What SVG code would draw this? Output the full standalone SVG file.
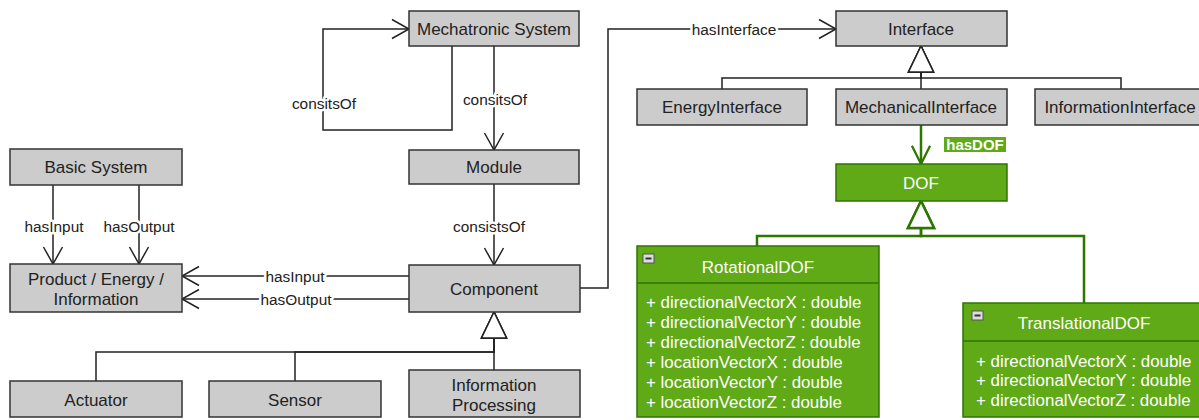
<svg xmlns="http://www.w3.org/2000/svg" width="1199" height="420" viewBox="0 0 1199 420">
<style>
.box{fill:#cccccc;stroke:#333333;stroke-width:1.5}
.gbox{fill:#60a917;stroke:#2d7600;stroke-width:1.5}
.t{font-family:"Liberation Sans",Arial,sans-serif;font-size:17px;fill:#222222;text-anchor:middle;dominant-baseline:central}
.gt{font-family:"Liberation Sans",Arial,sans-serif;font-size:17px;fill:#ffffff;text-anchor:middle;dominant-baseline:central}
.attr{font-family:"Liberation Sans",Arial,sans-serif;font-size:16.9px;fill:#ffffff;dominant-baseline:central}
.lbl{font-family:"Liberation Sans",Arial,sans-serif;font-size:15.4px;fill:#222222;text-anchor:middle;dominant-baseline:central;stroke:#ffffff;stroke-width:5;paint-order:stroke;stroke-linejoin:round}
.edge{fill:none;stroke:#222222;stroke-width:1.5}
.gedge{fill:none;stroke:#2d7600;stroke-width:2.5}
.icon{fill:#dddddd;stroke:#555555;stroke-width:1}
</style>
<defs>
<marker id="open" markerUnits="userSpaceOnUse" markerWidth="40" markerHeight="40" viewBox="-20 -20 40 40" refX="0" refY="0" orient="auto" overflow="visible">
<path d="M-17,-9.5 L0,0 L-17,9.5" fill="none" stroke="#222222" stroke-width="1.5"/>
</marker>
<marker id="gopen" markerUnits="userSpaceOnUse" markerWidth="40" markerHeight="40" viewBox="-22 -22 44 44" refX="0" refY="0" orient="auto" overflow="visible">
<path d="M-20,-10 L0,0 L-20,10" fill="none" stroke="#2d7600" stroke-width="2.5"/>
</marker>
<marker id="tri" markerUnits="userSpaceOnUse" markerWidth="40" markerHeight="40" viewBox="-30 -20 40 40" refX="0" refY="0" orient="auto" overflow="visible">
<path d="M0,0 L-26,-12.5 L-26,12.5 Z" fill="#ffffff" stroke="#222222" stroke-width="1.5"/>
</marker>
<marker id="gtri" markerUnits="userSpaceOnUse" markerWidth="40" markerHeight="40" viewBox="-30 -20 40 40" refX="0" refY="0" orient="auto" overflow="visible">
<path d="M0,0 L-27,-13 L-27,13 Z" fill="#ffffff" stroke="#2d7600" stroke-width="2.5"/>
</marker>
</defs>

<g id="connectors">
<path class="edge" d="M452,46 V130 H323 V29 H409" marker-end="url(#open)"/>
<path class="edge" d="M494,46 V150" marker-end="url(#open)"/>
<path class="edge" d="M494,184 V265" marker-end="url(#open)"/>
<path class="edge" d="M53,185 V264" marker-end="url(#open)"/>
<path class="edge" d="M139,185 V264" marker-end="url(#open)"/>
<path class="edge" d="M409,276 H182" marker-end="url(#open)"/>
<path class="edge" d="M409,299 H182" marker-end="url(#open)"/>
<path class="edge" d="M580,288 H608 V29 H836" marker-end="url(#open)"/>
<path class="edge" d="M96,381 V352 H494 V312" marker-end="url(#tri)"/>
<path class="edge" d="M295,381 V352 H494 V312" marker-end="url(#tri)"/>
<path class="edge" d="M494,370 V312" marker-end="url(#tri)"/>
<path class="edge" d="M722,89 V78 H921 V46" marker-end="url(#tri)"/>
<path class="edge" d="M1121,89 V78 H921 V46" marker-end="url(#tri)"/>
<path class="edge" d="M921,89 V46" marker-end="url(#tri)"/>
<path class="gedge" d="M921,125 V164" marker-end="url(#gopen)"/>
<path class="gedge" d="M757,246 V236 H921 V201" marker-end="url(#gtri)"/>
<path class="gedge" d="M1084,303 V236 H921 V201" marker-end="url(#gtri)"/>
<text class="lbl" x="324" y="103">consitsOf</text>
<text class="lbl" x="495" y="99">consitsOf</text>
<text class="lbl" x="489" y="226">consistsOf</text>
<text class="lbl" x="54" y="226">hasInput</text>
<text class="lbl" x="139" y="226">hasOutput</text>
<text class="lbl" x="295" y="276">hasInput</text>
<text class="lbl" x="296" y="299">hasOutput</text>
<text class="lbl" x="734" y="29">hasInterface</text>
<rect x="944" y="137" width="62" height="15" fill="#60a917"/>
<text x="975" y="144.5" font-family="'Liberation Sans',Arial,sans-serif" font-size="15px" font-weight="bold" fill="#ffffff" text-anchor="middle" dominant-baseline="central">hasDOF</text>
</g>

<g id="mechatronic-system"><rect class="box" x="409" y="11" width="170" height="35"/><text class="t" x="494" y="29">Mechatronic System</text></g>
<g id="module"><rect class="box" x="409" y="150" width="170" height="34"/><text class="t" x="494" y="167">Module</text></g>
<g id="basic-system"><rect class="box" x="10" y="149" width="172" height="36"/><text class="t" x="96" y="167">Basic System</text></g>
<g id="product"><rect class="box" x="10" y="264" width="172" height="48"/><text class="t" x="96" y="279">Product / Energy /</text><text class="t" x="96" y="299">Information</text></g>
<g id="component"><rect class="box" x="409" y="265" width="171" height="47"/><text class="t" x="494" y="289">Component</text></g>
<g id="actuator"><rect class="box" x="10" y="381" width="172" height="36"/><text class="t" x="96" y="400">Actuator</text></g>
<g id="sensor"><rect class="box" x="209" y="381" width="172" height="36"/><text class="t" x="295" y="400">Sensor</text></g>
<g id="information-processing"><rect class="box" x="409" y="370" width="171" height="47"/><text class="t" x="494" y="385">Information</text><text class="t" x="494" y="405">Processing</text></g>
<g id="interface"><rect class="box" x="836" y="11" width="171" height="35"/><text class="t" x="921" y="29">Interface</text></g>
<g id="energy-interface"><rect class="box" x="637" y="89" width="170" height="36"/><text class="t" x="722" y="107">EnergyInterface</text></g>
<g id="mechanical-interface"><rect class="box" x="836" y="89" width="171" height="36"/><text class="t" x="921" y="107">MechanicalInterface</text></g>
<g id="information-interface"><rect class="box" x="1035" y="89" width="171" height="36"/><text class="t" x="1120" y="107">InformationInterface</text></g>
<g id="dof"><rect class="gbox" x="836" y="164" width="171" height="37"/><text class="gt" x="921" y="183">DOF</text></g>
<g id="rotational-dof">
<rect class="gbox" x="637" y="246" width="242" height="171"/>
<line x1="637" y1="283" x2="879" y2="283" stroke="#2d7600" stroke-width="1.5"/>
<rect class="icon" x="643" y="254" width="11" height="9"/><line x1="645.5" y1="258.5" x2="651.5" y2="258.5" stroke="#333333" stroke-width="2"/>
<text class="gt" x="758" y="267">RotationalDOF</text>
<text class="attr" x="646" y="302">+ directionalVectorX : double</text>
<text class="attr" x="646" y="322">+ directionalVectorY : double</text>
<text class="attr" x="646" y="342">+ directionalVectorZ : double</text>
<text class="attr" x="646" y="362">+ locationVectorX : double</text>
<text class="attr" x="646" y="382">+ locationVectorY : double</text>
<text class="attr" x="646" y="402">+ locationVectorZ : double</text>
</g>
<g id="translational-dof">
<rect class="gbox" x="963" y="303" width="242" height="114"/>
<line x1="963" y1="341" x2="1205" y2="341" stroke="#2d7600" stroke-width="1.5"/>
<rect class="icon" x="972" y="311" width="11" height="9"/><line x1="974.5" y1="315.5" x2="980.5" y2="315.5" stroke="#333333" stroke-width="2"/>
<text class="gt" x="1084" y="323">TranslationalDOF</text>
<text class="attr" x="976" y="361">+ directionalVectorX : double</text>
<text class="attr" x="976" y="380">+ directionalVectorY : double</text>
<text class="attr" x="976" y="400">+ directionalVectorZ : double</text>
</g>
</svg>
